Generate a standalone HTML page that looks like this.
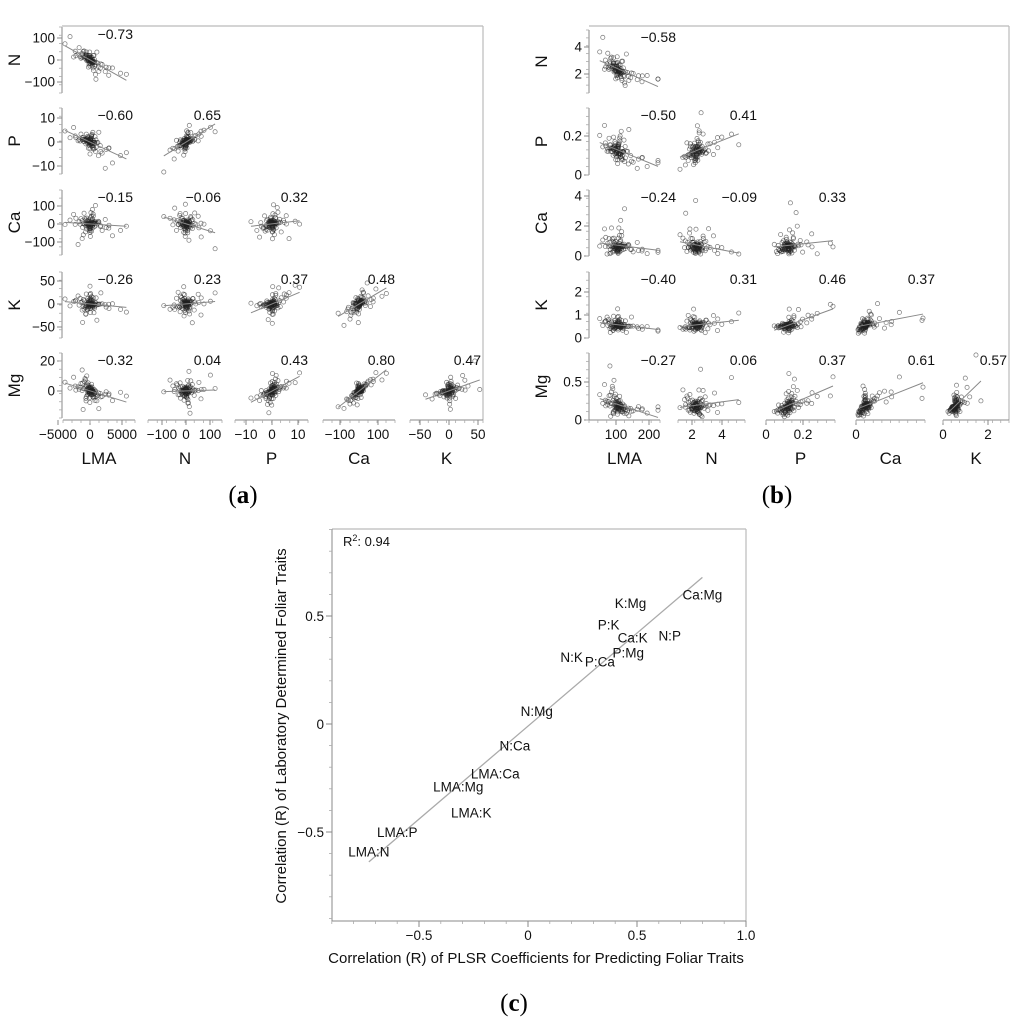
<!DOCTYPE html>
<html><head><meta charset="utf-8">
<style>
html,body{margin:0;padding:0;background:#fff;}
svg{display:block;font-family:"Liberation Sans",sans-serif;}
.cap{font-family:"Liberation Serif",serif;font-size:25px;}
</style></head>
<body>
<svg id="fig" width="1024" height="1029" viewBox="0 0 1024 1029">
<text class="cap" x="243" y="503" text-anchor="middle">(<tspan font-weight="bold">a</tspan>)</text>
<text class="cap" x="777" y="503" text-anchor="middle">(<tspan font-weight="bold">b</tspan>)</text>
<text class="cap" x="514" y="1011" text-anchor="middle">(<tspan font-weight="bold">c</tspan>)</text>
</svg>
<script>
// ---------- data ----------
const traits = ["LMA","N","P","Ca","K","Mg"];
const corrA = [[-0.73],[-0.60,0.65],[-0.15,-0.06,0.32],[-0.26,0.23,0.37,0.48],[-0.32,0.04,0.43,0.80,0.47]];
const corrB = [[-0.58],[-0.50,0.41],[-0.24,-0.09,0.33],[-0.40,0.31,0.46,0.37],[-0.27,0.06,0.37,0.61,0.57]];
const baseZ1 = [0.1,-0.3,0.5,-0.8,1.2,-0.2,0.0,0.4,-0.6,0.9,-1.5,0.3,-0.1,0.7,-0.4,2.2,-0.9,0.2,-0.05,0.6,-1.1,0.15,-0.35,1.6,-2.0,0.05,0.8,-0.7,0.25,-0.25,2.8,-0.15,0.45,-1.3,0.35,-0.5,1.0,-0.45,0.12,-2.6,0.55,-0.12,1.9,-0.85,0.3,-0.02,0.65,-1.7,0.08,3.2];
const baseZ2 = [-0.4,0.6,0.1,-0.2,-0.9,1.3,0.3,-0.7,0.5,0.2,-0.1,-1.4,0.8,-0.3,2.1,0.0,-0.6,1.0,-2.2,0.4,0.15,-0.8,1.7,-0.25,0.35,-1.1,0.7,-0.05,2.6,-0.5,0.45,-1.8,0.05,0.9,-0.15,1.2,-0.35,-2.9,0.25,0.55,-1.0,0.65,-0.45,0.12,-0.6,1.5,-0.2,0.3,-1.3,0.1];
// panel (a) variable spread (centered residuals)
const sdA = [1500,32,2.8,38,14,4.5];
// panel (b) variable location/scale (log-normal-ish)
const meanB = [105,2.3,0.12,0.6,0.55,0.18];
const logSdB = [0.28,0.25,0.38,0.7,0.35,0.5];
// tick labels
const aXTicks = [[-5000,0,5000],[-100,0,100],[-10,0,10],[-100,100],[-50,0,50]];
const aYTicks = [[100,0,-100],[10,0,-10],[100,0,-100],[50,0,-50],[20,0]];
const bXTicks = [[100,200],[2,4],[0,0.2],[0],[0,2]];
const bYTicks = [[4,2],[0.2,0],[4,2,0],[2,1,0],[0.5,0]];
// panel (c)
const pairLabels = ["Ca:Mg","K:Mg","P:K","Ca:K","N:P","P:Mg","N:K","P:Ca","N:Mg","N:Ca","LMA:Ca","LMA:Mg","LMA:K","LMA:P","LMA:N"];
const plsrR = [0.80,0.47,0.37,0.48,0.65,0.46,0.20,0.33,0.04,-0.06,-0.15,-0.32,-0.26,-0.60,-0.73];
const labR = [0.60,0.56,0.46,0.40,0.41,0.33,0.31,0.29,0.06,-0.10,-0.23,-0.29,-0.41,-0.50,-0.59];
const cXTicks = [-0.5,0,0.5,1.0];
const cYTicks = [0.5,0,-0.5];

// ---------- helpers ----------
const NS="http://www.w3.org/2000/svg";
const svg=document.getElementById("fig");
function mk(tag,attrs,parent){const e=document.createElementNS(NS,tag);for(const k in attrs)e.setAttribute(k,attrs[k]);(parent||svg).appendChild(e);return e;}
function line(x1,y1,x2,y2,stroke,w,p){return mk("line",{x1,y1,x2,y2,stroke,"stroke-width":w},p);}
function txt(x,y,s,size,anchor,p){const t=mk("text",{x,y,"font-size":size,"text-anchor":anchor||"middle",fill:"#111"},p);t.textContent=s;return t;}
function fmt(v){return (v<0?"\u2212":"")+Math.abs(v).toString();}
function fmtR(v){return (v<0?"\u2212":"")+Math.abs(v).toFixed(2);}
function clamp(v,a,b){return Math.max(a,Math.min(b,v));}

// ---------- scatter matrix ----------
function matrix(cfg){
  const g=mk("g",{});
  
  
  line(cfg.L,cfg.T,cfg.R,cfg.T,"#bbb",1.2,g);
  line(cfg.R,cfg.T,cfg.R,cfg.B,"#bbb",1.2,g);
  for(let i=0;i<5;i++){
    const ry=cfg.rows[i];
    const ya=cfg.yAxis[i];
    const ax=mk("g",{},g);
    
    
    line(cfg.L,ry[0],cfg.L,ry[1],"#888",1,ax);
    cfg.yTicks[i].forEach(v=>{const y=ya(v);line(cfg.L-5,y,cfg.L,y,"#888",1,ax);txt(cfg.L-7,y+4.5,fmt(v),13.5,"end",ax);});
    const n=8;for(let k=0;k<=n;k++){const y=ry[0]+ (ry[1]-ry[0])*k/n;line(cfg.L-3,y,cfg.L,y,"#aaa",0.8,ax);}
    const rl=txt(0,0,traits[i+1],17,"middle",ax);
    rl.setAttribute("transform",`translate(${cfg.rowLabelX},${(ry[0]+ry[1])/2}) rotate(-90)`);
  }
  for(let j=0;j<5;j++){
    const cx=cfg.cols[j];const xa=cfg.xAxis[j];
    const ax=mk("g",{},g);
    
    
    line(cx[0],cfg.B,cx[1],cfg.B,"#888",1,ax);
    cfg.xTicks[j].forEach(v=>{const x=xa(v);line(x,cfg.B,x,cfg.B+5,"#888",1,ax);txt(x,cfg.B+19,fmt(v),13.5,"middle",ax);});
    const n=8;for(let k=0;k<=n;k++){const x=cx[0]+(cx[1]-cx[0])*k/n;line(x,cfg.B,x,cfg.B+3,"#aaa",0.8,ax);}
    txt((cx[0]+cx[1])/2,cfg.B+44,traits[j],17,"middle",ax);
  }
  for(let i=0;i<5;i++){
    for(let j=0;j<=i;j++){
      const r=cfg.corr[i][j];
      const cell=mk("g",{},g);
      
      
      const xs=[],ys=[];
      const off=i*5+j*3+1;
      const cx=cfg.cols[j], ry=cfg.rows[i];
      for(let k=0;k<100;k++){
        const a=baseZ1[(k+off)%50]*(k<50?1:0.6);
        const b=baseZ2[(k*7+off*3)%50]*(k<50?1:0.6);
        const zy=r*a+Math.sqrt(1-r*r)*b;
        const vx=cfg.val(j,a), vy=cfg.val(i+1,zy);
        const px=clamp(cfg.xAxis[j](vx),cx[0]+2,cx[1]-2), py=clamp(cfg.yAxis[i](vy),ry[0]+2,ry[1]-2);
        xs.push(px);ys.push(py);
        const c=mk("circle",{cx:px,cy:py,r:2.1,fill:"none",stroke:"#222","stroke-opacity":0.6,"stroke-width":0.7},cell);
        
        
      }
      const n=xs.length,mx=xs.reduce((s,v)=>s+v,0)/n,my=ys.reduce((s,v)=>s+v,0)/n;
      let sxy=0,sxx=0;for(let k=0;k<n;k++){sxy+=(xs[k]-mx)*(ys[k]-my);sxx+=(xs[k]-mx)**2;}
      const sl=sxy/sxx;const x0=Math.min(...xs),x1=Math.max(...xs);
      const fl=line(x0,my+sl*(x0-mx),x1,my+sl*(x1-mx),"#888",1,cell);
      
      
      const t=txt(cfg.rLabelX[j],cfg.rows[i][0]+12,fmtR(r),14,"end",cell);
      
      
    }
  }
}
function lin(v0,p0,v1,p1){return v=>p0+(v-v0)*(p1-p0)/(v1-v0);}

matrix({name:"panel-a",L:62,T:26,R:483,B:420,rowLabelX:20,
  rows:[[27,93],[108,174],[190,255],[272,338],[353,418]],
  cols:[[63,135],[148,222],[235,308],[323,395],[410,483]],
  yAxis:[lin(0,60,100,38),lin(0,142,10,118),lin(0,224,100,206),lin(0,304,50,281),lin(0,391,20,361)],
  xAxis:[lin(0,90,5000,122),lin(0,186,100,210),lin(0,272,10,298),lin(-100,340,100,378),lin(0,449,50,478)],
  yTicks:aYTicks,xTicks:aXTicks,corr:corrA,
  rLabelX:[133,221,308,395,481],
  val:(t,z)=>sdA[t]*z*(1+0.15*Math.abs(z))*0.8
});
matrix({name:"panel-b",L:589,T:26,R:1009,B:420,rowLabelX:547,
  rows:[[30,93],[108,175],[190,256],[272,338],[353,420]],
  cols:[[589,660],[678,745],[766,835],[856,925],[943,1009]],
  yAxis:[lin(2,74,4,47),lin(0,175,0.2,136),lin(0,256,2,226),lin(0,338,1,315),lin(0,420,0.5,382)],
  xAxis:[lin(100,616,200,649),lin(2,692,4,722),lin(0,766,0.2,803),lin(0,856,1,871.5),lin(0,943,2,988)],
  yTicks:bYTicks,xTicks:bXTicks,corr:corrB,
  rLabelX:[676,757,846,935,1007],
  val:(t,z)=>meanB[t]*Math.exp(logSdB[t]*z)
});

// ---------- panel c ----------
(function(){
  const g=mk("g",{});
  
  
  const L=332,R=746,T=529,B=921;
  const X=lin(0,528,0.5,637), Y=lin(0,724,0.5,616);
  line(L,T,R,T,"#bbb",1.2,g);line(R,T,R,B,"#bbb",1.2,g);
  line(L,T,L,B,"#888",1,g);line(L,B,R,B,"#888",1,g);
  for(let v=-0.9;v<=1.001;v+=0.1){const x=X(v);line(x,B,x,B+3,"#aaa",0.8,g);}
  for(let v=-0.9;v<=0.901;v+=0.1){const y=Y(v);line(L-3,y,L,y,"#aaa",0.8,g);}
  const xa=mk("g",{},g);
  
  
  cXTicks.forEach(v=>{const x=X(v);line(x,B,x,B+6,"#888",1,xa);txt(x,B+19,v===1?"1.0":fmt(v),13.5,"middle",xa);});
  const ya=mk("g",{},g);
  
  
  cYTicks.forEach(v=>{const y=Y(v);line(L-6,y,L,y,"#888",1,ya);txt(L-8,y+5,fmt(v),13.5,"end",ya);});
  const xt=txt(536,963,"Correlation (R) of PLSR Coefficients for Predicting Foliar Traits",15,"middle",g);
  
  
  const yt=txt(0,0,"Correlation (R) of Laboratory Determined Foliar Traits",15,"middle",g);
  yt.setAttribute("transform","translate(286,726) rotate(-90)");
  
  
  const r2=txt(343,546,"",13,"start",g);
  r2.innerHTML='R<tspan dy="-5" font-size="9">2</tspan><tspan dy="5">: 0.94</tspan>';
  
  
  const n=plsrR.length,mx=plsrR.reduce((s,v)=>s+v,0)/n,my=labR.reduce((s,v)=>s+v,0)/n;
  let sxy=0,sxx=0;for(let k=0;k<n;k++){sxy+=(plsrR[k]-mx)*(labR[k]-my);sxx+=(plsrR[k]-mx)**2;}
  const sl=sxy/sxx;const x0=Math.min(...plsrR),x1=Math.max(...plsrR);
  const rl=line(X(x0),Y(my+sl*(x0-mx)),X(x1),Y(my+sl*(x1-mx)),"#aaa",1.3,g);
  
  
  for(let k=0;k<n;k++){
    const t=txt(X(plsrR[k]),Y(labR[k])+5,pairLabels[k],13.5,"middle",g);
    
    
  }
})();
</script>
</body></html>
